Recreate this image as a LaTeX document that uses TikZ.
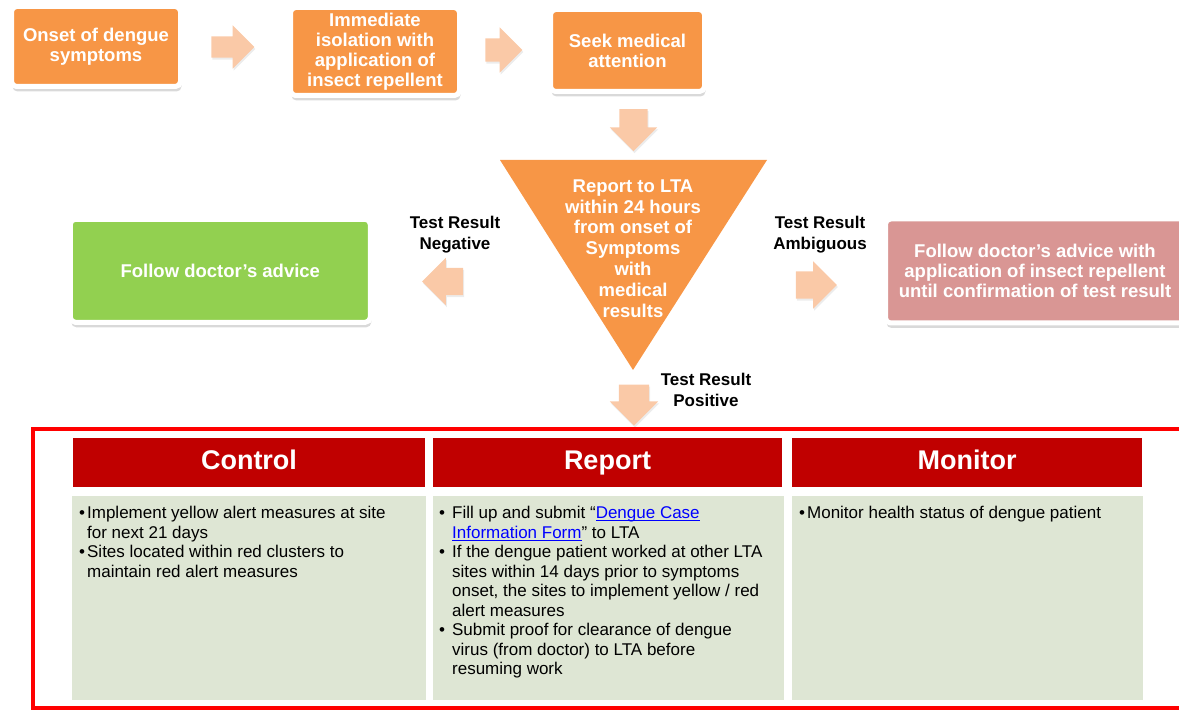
\documentclass[tikz,border=0pt]{standalone}
\usepackage{fontspec}
\setmainfont{Liberation Sans}
\usetikzlibrary{shapes.arrows, shadows}

\definecolor{boxorange}{HTML}{F79646}
\definecolor{arrowpeach}{HTML}{FAC9A7}
\definecolor{advgreen}{HTML}{92D050}
\definecolor{advpink}{HTML}{D99694}
\definecolor{hdrred}{HTML}{C00000}
\definecolor{cellgrey}{HTML}{DEE6D4}
\definecolor{linkblue}{HTML}{0000FF}
\definecolor{framered}{HTML}{FF0000}

\newcommand{\boxfont}{\fontsize{18.5}{20}\selectfont\bfseries}
\newcommand{\trifont}{\fontsize{18.5}{20.8}\selectfont\bfseries}
\newcommand{\lblfont}{\fontsize{17}{21}\selectfont\bfseries}
\newcommand{\hdrfont}{\fontsize{27}{30}\selectfont\bfseries}
\newcommand{\cellfont}{\fontsize{17}{19.5}\selectfont}
\newcommand{\lnk}[1]{\textcolor{linkblue}{\sbox0{#1}\rlap{\rule[-2.2pt]{\wd0}{0.9pt}}\usebox0}}
\newcommand{\shaft}[1]{\rule{0pt}{#1pt}}

\begin{document}
\begin{tikzpicture}[x=1pt, y=-1pt,
  stepbox/.style={rounded corners=5pt, draw=white, line width=5pt, fill=boxorange,
    text=white, font=\boxfont, align=center, inner sep=0pt,
    drop shadow={shadow xshift=1pt, shadow yshift=-5pt, opacity=0.3}},
  blockarrow/.style={single arrow, fill=arrowpeach, inner sep=0pt,
    minimum height=43pt, single arrow head extend=11pt,
    single arrow tip angle=90,
    drop shadow={shadow xshift=1pt, shadow yshift=-2pt, opacity=0.15}},
  lbl/.style={font=\lblfont, align=center, inner sep=0pt},
  hdr/.style={fill=hdrred, text=white, font=\hdrfont, inner sep=0pt,
    minimum height=49pt, text height=19.5pt, text depth=5.5pt},
  cell/.style={fill=cellgrey, inner sep=0pt, minimum height=204pt},
  celltext/.style={anchor=north west, inner sep=0pt, font=\cellfont, align=left}]
\useasboundingbox (0,0) rectangle (1179,711);

% top row
\node[stepbox, minimum width=169pt, minimum height=80pt] (onset) at (96,46.5)
  {Onset of dengue\\symptoms};
\node[stepbox, minimum width=169pt, minimum height=88pt] (isolate) at (375,51.5)
  {Immediate\\isolation with\\application of\\insect repellent};
\node[stepbox, minimum width=154pt, minimum height=82pt] (seek) at (627.5,50.5)
  {Seek medical\\attention};
\node[blockarrow] (a1) at (227.5,47) {\shaft{21}};
\node[blockarrow, minimum height=37pt] (a2) at (498,50) {\shaft{23}};
\node[blockarrow, rotate=-90, minimum height=42pt, single arrow head extend=9.5pt] (a3) at (633.5,123) {\shaft{28}};

% report triangle
\coordinate (tl) at (500,160);
\coordinate (tr) at (767,160);
\coordinate (tip) at (633,370);
\fill[boxorange] (tl) -- (tr) -- (tip) -- cycle;
\node[text=white, font=\trifont, align=center, inner sep=0pt] (report) at (633,248.5)
  {Report to LTA\\within 24 hours\\from onset of\\Symptoms\\with\\medical\\results};

% outcomes
\node[lbl] (neg) at (455,234.5) {Test Result\\Negative};
\node[blockarrow, rotate=180, minimum height=41pt, single arrow head extend=10pt] (a4) at (449.5,281.5) {\shaft{27}};
\node[stepbox, fill=advgreen, minimum width=300pt, minimum height=103pt] (doctor) at (220.3,270.8)
  {Follow doctor’s advice};
\node[lbl] (amb) at (820,234.5) {Test Result\\Ambiguous};
\node[blockarrow, minimum height=41pt, single arrow head extend=10pt] (a5) at (809.5,285) {\shaft{27}};
\node[stepbox, fill=advpink, minimum width=299pt, minimum height=104pt] (repel) at (1035,271)
  {Follow doctor’s advice with\\application of insect repellent\\until confirmation of test result};
\node[lbl] (pos) at (706,389.5) {Test Result\\Positive};
\node[blockarrow, rotate=-90, minimum height=41pt, single arrow head extend=9pt] (a6) at (634,397.5) {\shaft{30}};

% actions table
\draw[framered, line width=4pt] (33,429) rectangle (1195,708);
\node[hdr, minimum width=352pt] (control) at (249,462.5) {Control};
\node[hdr, minimum width=349pt] (reporthdr) at (607.5,462.5) {Report};
\node[hdr, minimum width=350pt] (monitor) at (967,462.5) {Monitor};
\node[cell, minimum width=354pt] (controlcell) at (249,598) {};
\node[cell, minimum width=351pt] (reportcell) at (608.5,598) {};
\node[cell, minimum width=351pt] (monitorcell) at (967.5,598) {};

\node[celltext] (controltxt) at (79,505) {%
  \begin{tabular}{@{}l@{\hspace{2pt}}l@{}}
  \textbullet & Implement yellow alert measures at site\\
  & for next 21 days\\
  \textbullet & Sites located within red clusters to\\
  & maintain red alert measures
  \end{tabular}};
\node[celltext] (reporttxt) at (439,505) {%
  \begin{tabular}{@{}l@{\hspace{7pt}}l@{}}
  \textbullet & Fill up and submit “\lnk{Dengue Case}\\
  & \lnk{Information Form}” to LTA\\
  \textbullet & If the dengue patient worked at other LTA\\
  & sites within 14 days prior to symptoms\\
  & onset, the sites to implement yellow / red\\
  & alert measures\\
  \textbullet & Submit proof for clearance of dengue\\
  & virus (from doctor) to LTA before\\
  & resuming work
  \end{tabular}};
\node[celltext] (monitortxt) at (799,505) {%
  \begin{tabular}{@{}l@{\hspace{2pt}}l@{}}
  \textbullet & Monitor health status of dengue patient
  \end{tabular}};
\end{tikzpicture}
\end{document}
